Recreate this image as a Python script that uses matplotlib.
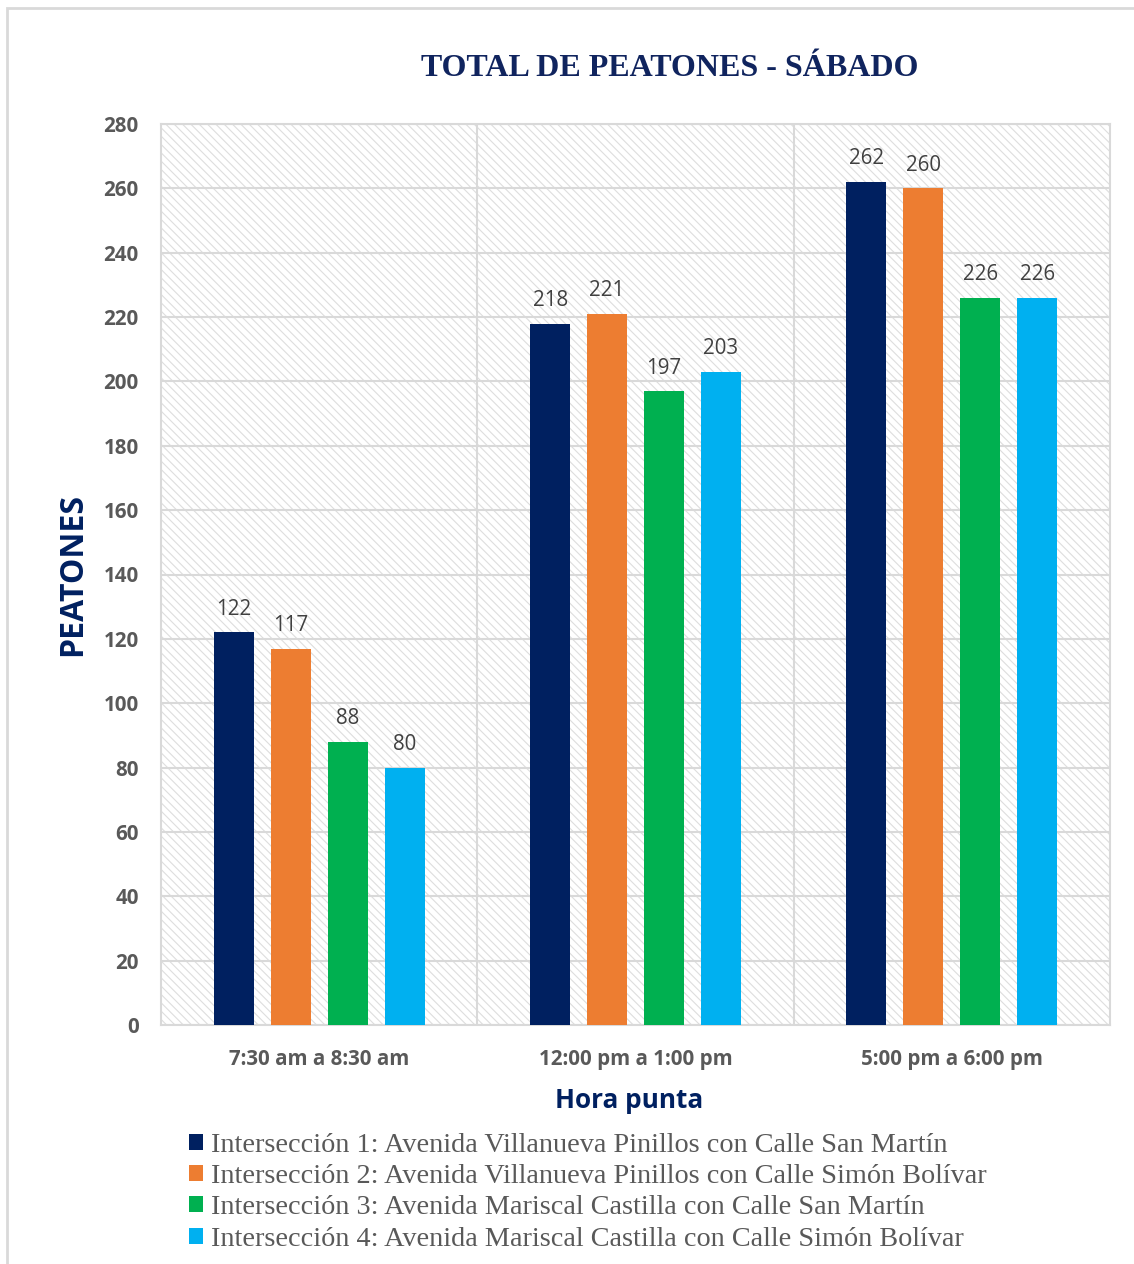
import numpy as np
import matplotlib
matplotlib.use('Agg')
import matplotlib.pyplot as plt
from matplotlib.patches import Rectangle, Patch

# Data
categories = ['7:30 am a 8:30 am', '12:00 pm a 1:00 pm', '5:00 pm a 6:00 pm']
series_names = [
    'Intersección 1: Avenida Villanueva Pinillos con Calle San Martín',
    'Intersección 2: Avenida Villanueva Pinillos con Calle Simón Bolívar',
    'Intersección 3: Avenida Mariscal Castilla con Calle San Martín',
    'Intersección 4: Avenida Mariscal Castilla con Calle Simón Bolívar',
]
inter1 = [122, 218, 262]
inter2 = [117, 221, 260]
inter3 = [88, 197, 226]
inter4 = [80, 203, 226]
series = [inter1, inter2, inter3, inter4]
colors = ['#002060', '#ED7D31', '#00B050', '#00B0F0']

navy = '#002060'
gray = '#595959'
sans = ['Open Sans', 'DejaVu Sans']
serif = ['Liberation Serif', 'DejaVu Serif']

plt.rcParams['hatch.linewidth'] = 0.8
plt.rcParams['hatch.color'] = '#DEDEDE'

fig = plt.figure(figsize=(11.34, 12.64), dpi=100)
ax = fig.add_axes([161/1134, 1 - 1025/1264, 949/1134, 901/1264])

# outer chart border
fig.patches.append(Rectangle((7/1134, -0.02), 1.1, 1 - 8/1264 + 0.02,
                             transform=fig.transFigure, fill=False,
                             edgecolor='#D9D9D9', linewidth=2))

# hatched plot area background
ax.add_patch(Rectangle((0, 0), 1, 1, transform=ax.transAxes, facecolor='white',
                       edgecolor='#DEDEDE', hatch='\\\\\\\\', linewidth=0, zorder=0))

x = np.arange(len(categories))
step = 0.18
width = 0.126
for i, (vals, c, name) in enumerate(zip(series, colors, series_names)):
    pos = x + (i - 1.5) * step
    bars = ax.bar(pos, vals, width, color=c, label=name, zorder=3)
    for b, v in zip(bars, vals):
        ax.annotate(str(v), (b.get_x() + b.get_width() / 2, v),
                    xytext=(0, 9), textcoords='offset points',
                    ha='center', va='bottom', fontsize=14.8,
                    color='#404040', family=sans)

ax.set_xlim(-0.5, 2.5)
ax.set_ylim(0, 280)
ax.set_yticks(np.arange(0, 281, 20))
ax.set_xticks(x)
ax.set_xticklabels(categories)
ax.set_xticks([0.5, 1.5], minor=True)
ax.grid(axis='y', color='#D9D9D9', linewidth=1.5, zorder=1)
ax.grid(axis='x', which='minor', color='#D9D9D9', linewidth=1.5, zorder=1)
ax.set_axisbelow(True)
ax.tick_params(which='both', length=0)
ax.tick_params(axis='y', pad=16)
ax.tick_params(axis='x', pad=17)
for lab in ax.get_xticklabels() + ax.get_yticklabels():
    lab.set_fontfamily(sans)
    lab.set_fontweight('bold')
    lab.set_fontsize(14.8)
    lab.set_color(gray)
for s in ax.spines.values():
    s.set_color('#D9D9D9')
    s.set_linewidth(1.5)

fig.text(73/1134, 1 - 575/1264, 'PEATONES', rotation=90, ha='center', va='center',
         fontsize=23, fontweight='bold', color=navy, family=sans)
fig.text(670/1134, 1 - 68/1264, 'TOTAL DE PEATONES - SÁBADO', ha='center', va='center',
         fontsize=23, fontweight='bold', color='#10245E', family=serif)
fig.text(629/1134, 1 - 1100/1264, 'Hora punta', ha='center', va='center',
         fontsize=18.8, fontweight='bold', color=navy, family=sans)

handles = [Patch(facecolor=c, edgecolor='none') for c in colors]
fig.legend(handles, series_names, loc='upper left',
           bbox_to_anchor=(189/1134, 1 - 1133/1264), frameon=False,
           prop={'family': serif, 'size': 20.3}, labelcolor=gray,
           handlelength=0.5, handleheight=0.5, handletextpad=0.28,
           labelspacing=0.22, borderpad=0, borderaxespad=0)

fig.savefig('out.png', dpi=100)
